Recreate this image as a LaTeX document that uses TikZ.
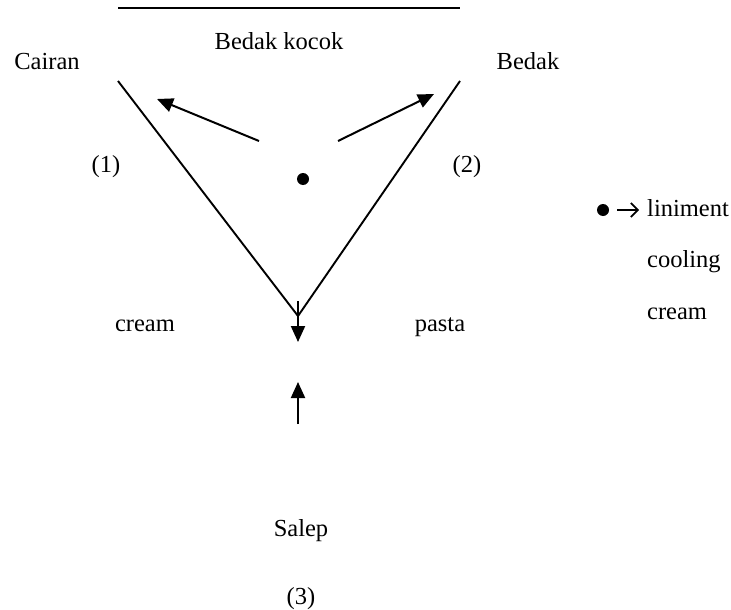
\documentclass[tikz,border=0pt]{standalone}
\usepackage{fontspec}
\setmainfont{Liberation Serif}
\usetikzlibrary{arrows.meta}
\begin{document}
\begin{tikzpicture}[x=1pt,y=-1pt,
  lbl/.style={inner sep=0pt,anchor=base,font=\fontsize{24.5}{29}\selectfont},
  lblw/.style={inner sep=0pt,anchor=base west,font=\fontsize{24.5}{29}\selectfont},
  edge/.style={line width=1.9pt},
  arr/.style={line width=2pt,-{Triangle[length=16pt,width=14pt]}},
  leg/.style={line width=1.7pt,-{Straight Barb[length=7pt,width=14pt]}}]
\useasboundingbox (0,0) rectangle (731,610);
% top line
\coordinate (tl) at (118,8);
\coordinate (tr) at (460,8);
\draw[edge] (tl) -- (tr);
% triangle sides
\coordinate (L) at (118,81);
\coordinate (R) at (460,81);
\coordinate (A) at (298,316);
\draw[edge] (L) -- (A) -- (R);
% labels
\node[lbl] (bk) at (279,50) {Bedak kocok};
\node[lbl] (cairan) at (47,70) {Cairan};
\node[lbl] (bedak) at (528,70) {Bedak};
\node[lbl] (n1) at (106,172) {(1)};
\node[lbl] (n2) at (467,172) {(2)};
\node[lbl] (cream) at (145,331) {cream};
\node[lbl] (pasta) at (440,331) {pasta};
\node[lbl] (salep) at (301,536) {Salep};
\node[lbl] (n3) at (301,604) {(3)};
% center dot and arrows
\node[circle,fill=black,inner sep=0pt,minimum size=12pt] (dot) at (303,179) {};
\coordinate (la0) at (259,141);
\coordinate (la1) at (157,99);
\coordinate (ra0) at (338,141);
\coordinate (ra1) at (434,94);
\draw[arr] (la0) -- (la1);
\draw[arr] (ra0) -- (ra1);
% vertical arrows
\coordinate (d0) at (298,301);
\coordinate (d1) at (298,342);
\coordinate (u0) at (298,424);
\coordinate (u1) at (298,382);
\draw[arr] (d0) -- (d1);
\draw[arr] (u0) -- (u1);
% legend
\node[circle,fill=black,inner sep=0pt,minimum size=12pt] (ldot) at (603,210) {};
\node[lblw] (lin) at (647,216) {liniment};
\node[lblw] (cool) at (647,267) {cooling};
\node[lblw] (cr2) at (647,319) {cream};
\coordinate (la) at (617,210);
\coordinate (lb) at (639,210);
\draw[leg] (la) -- (lb);
\end{tikzpicture}
\end{document}
